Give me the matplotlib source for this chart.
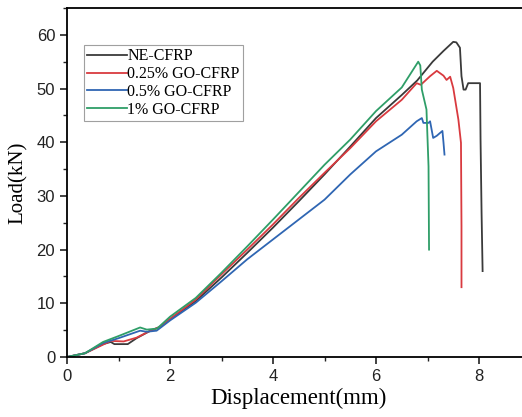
import matplotlib
matplotlib.use("Agg")
import matplotlib.pyplot as plt
from matplotlib.ticker import MultipleLocator

labels = ["NE-CFRP", "0.25% GO-CFRP", "0.5% GO-CFRP", "1% GO-CFRP"]
colors = ["#3a3a3a", "#d93a3f", "#2f66b3", "#2f9e68"]

ne_x = [0, 0.35, 0.7, 0.85, 0.92, 1.18, 1.35, 1.6, 1.8, 2.0, 2.5, 3.0, 3.5, 4.0, 4.5, 5.0, 5.5, 6.0, 6.5,
        6.8, 7.1, 7.31, 7.5, 7.56, 7.63, 7.66, 7.7, 7.74, 7.79, 8.02, 8.03, 8.05, 8.07]
ne_y = [0, 0.7, 2.4, 2.8, 2.4, 2.4, 3.5, 4.8, 5.6, 7.0, 10.4, 14.8, 19.4, 24.1, 29.0, 34.0, 39.2, 44.5, 48.8,
        51.5, 55.0, 57.0, 58.7, 58.6, 57.6, 52.3, 49.8, 49.8, 51.0, 51.0, 40.5, 26.8, 16.0]

r_x = [0, 0.35, 0.7, 0.85, 1.1, 1.35, 1.6, 1.8, 2.0, 2.5, 3.0, 3.5, 4.0, 4.5, 5.0, 5.5, 6.0, 6.5, 6.79,
       6.87, 7.05, 7.18, 7.31, 7.37, 7.44, 7.5, 7.6, 7.65, 7.66, 7.66]
r_y = [0, 0.7, 2.3, 3.0, 2.9, 3.6, 4.8, 5.6, 7.1, 10.7, 15.4, 20.0, 24.7, 29.6, 34.3, 38.9, 43.9, 47.9, 51.0,
       50.7, 52.3, 53.3, 52.4, 51.6, 52.2, 50.1, 44.2, 39.9, 24.4, 13.0]

b_x = [0, 0.35, 0.7, 1.0, 1.42, 1.55, 1.74, 2.0, 2.5, 3.0, 3.5, 4.0, 4.5, 5.0, 5.5, 6.0, 6.5, 6.79,
       6.89, 6.92, 7.02, 7.05, 7.11, 7.18, 7.24, 7.29, 7.31, 7.33]
b_y = [0, 0.7, 2.6, 3.5, 4.9, 4.7, 4.9, 6.8, 10.1, 14.1, 18.2, 21.9, 25.6, 29.3, 34.0, 38.3, 41.4, 43.9,
       44.5, 43.6, 43.6, 43.9, 40.8, 41.2, 41.7, 42.1, 40.0, 37.7]

g_x = [0, 0.35, 0.7, 1.0, 1.42, 1.55, 1.75, 2.0, 2.5, 3.0, 3.5, 4.0, 4.5, 5.0, 5.5, 6.0, 6.5, 6.82,
       6.86, 6.89, 6.98, 7.02, 7.03]
g_y = [0, 0.7, 2.8, 3.9, 5.5, 5.1, 5.3, 7.5, 11.0, 15.7, 20.6, 25.6, 30.7, 35.8, 40.5, 45.8, 50.2, 55.0,
       54.3, 49.8, 46.1, 35.5, 20.0]

xs = [ne_x, r_x, b_x, g_x]
ys = [ne_y, r_y, b_y, g_y]

fig = plt.figure(figsize=(5.22, 4.17), dpi=100)
ax = fig.add_axes([67 / 522, 60 / 417, 463.5 / 522, 349 / 417])

for x, y, c, lab in zip(xs, ys, colors, labels):
    ax.plot(x, y, color=c, lw=1.3, label=lab)

ax.set_xlim(0, 9)
ax.set_ylim(0, 65)
ax.xaxis.set_major_locator(MultipleLocator(2))
ax.xaxis.set_minor_locator(MultipleLocator(1))
ax.yaxis.set_major_locator(MultipleLocator(10))
ax.yaxis.set_minor_locator(MultipleLocator(5))
ax.tick_params(which="major", direction="out", length=5, width=1.2, labelsize=12, colors="#222222")
ax.tick_params(which="minor", direction="out", length=3, width=1.0, colors="#222222")
ax.tick_params(top=False, right=False)
for lab in ax.get_xticklabels() + ax.get_yticklabels():
    lab.set_fontfamily("Liberation Sans")
for s in ax.spines.values():
    s.set_linewidth(1.3)

ax.set_xlabel("Displacement(mm)", fontfamily="Liberation Serif", fontsize=16.5, labelpad=3)
ax.set_ylabel("Load(kN)", fontfamily="Liberation Serif", fontsize=15, labelpad=6)

leg = ax.legend(loc="upper left", bbox_to_anchor=(17 / 463.5, 1 - 37 / 349), frameon=True, fancybox=False,
                prop={"family": "Liberation Serif", "size": 11.5}, handlelength=2.5, handletextpad=0.0,
                borderpad=0.2, labelspacing=0.12, borderaxespad=0)
leg.get_frame().set_edgecolor("#888888")
leg.get_frame().set_linewidth(0.8)

fig.savefig("out.png", dpi=100)
